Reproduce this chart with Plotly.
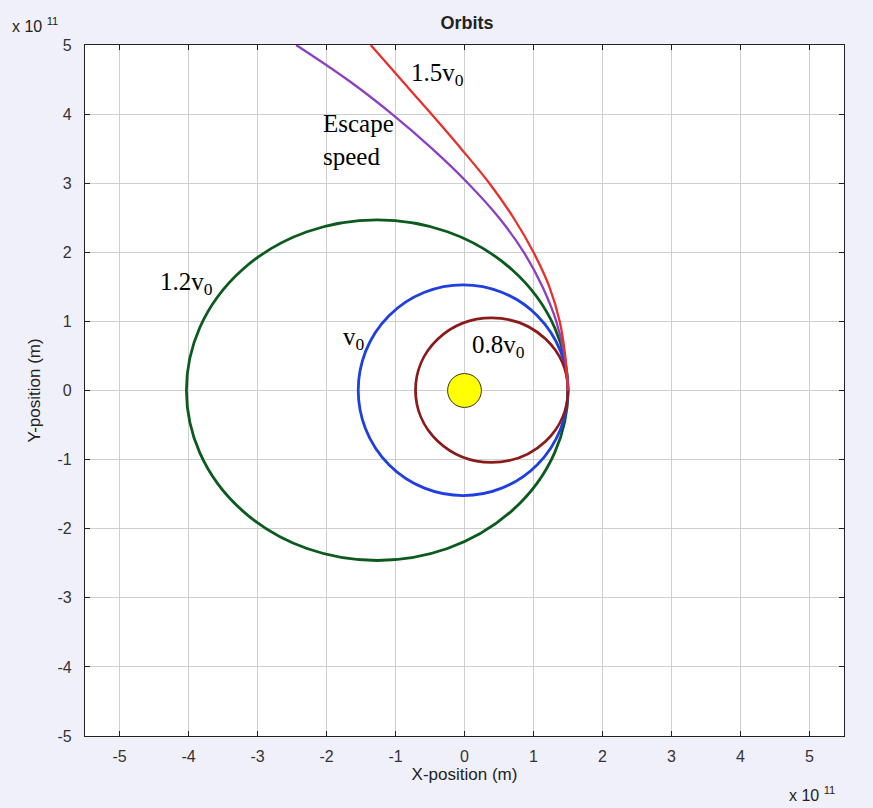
import plotly.graph_objects as go

# Units: 1e11 m
# Open trajectories (top -> perihelion)
fast_x = [-1.36, -0.92, -0.48, -0.05, 0.36, 0.71, 1.00, 1.23, 1.38, 1.46, 1.50]
fast_y = [5.00, 4.50, 4.00, 3.50, 3.00, 2.50, 2.00, 1.50, 1.00, 0.50, 0.00]
escape_x = [-2.44, -1.70, -1.05, -0.47, 0.05, 0.50, 0.86, 1.13, 1.33, 1.45, 1.50]
escape_y = [5.00, 4.50, 4.00, 3.50, 3.00, 2.50, 2.00, 1.50, 1.00, 0.50, 0.00]

# Closed orbits: bounding boxes
orbit_names = ["1.2v0", "v0", "0.8v0"]
orbit_x0 = [-4.03, -1.54, -0.71]
orbit_x1 = [1.50, 1.50, 1.50]
orbit_y0 = [-2.46, -1.52, -1.04]
orbit_y1 = [2.47, 1.53, 1.05]
orbit_colors = ["#0b5a1e", "#1f3fe0", "#8b1a1a"]

sun_box = [-0.245, 0.245, -0.245, 0.245]

x_ticks = [-5, -4, -3, -2, -1, 0, 1, 2, 3, 4, 5]
x_tick_text = ["-5", "-4", "-3", "-2", "-1", "0", "1", "2", "3", "4", "5"]
y_ticks = [-5, -4, -3, -2, -1, 0, 1, 2, 3, 4, 5]
y_tick_text = ["-5", "-4", "-3", "-2", "-1", "0", "1", "2", "3", "4", "5"]

labels_text = ["1.5v<sub>0</sub>", "Escape<br>speed", "1.2v<sub>0</sub>", "v<sub>0</sub>", "0.8v<sub>0</sub>"]
labels_x = [-0.80, -2.08, -4.44, -1.79, 0.08]
labels_y = [4.57, 3.62, 1.55, 0.75, 0.64]

fig = go.Figure()

fig.add_trace(go.Scatter(x=escape_x, y=escape_y, mode="lines",
                         line=dict(color="#8a3fc4", width=2.3, shape="spline", smoothing=1.0),
                         hoverinfo="skip"))
fig.add_trace(go.Scatter(x=fast_x, y=fast_y, mode="lines",
                         line=dict(color="#e8302a", width=2.3, shape="spline", smoothing=1.0),
                         hoverinfo="skip"))

shapes = []
for x0, x1, y0, y1, c in zip(orbit_x0, orbit_x1, orbit_y0, orbit_y1, orbit_colors):
    shapes.append(dict(type="circle", xref="x", yref="y", x0=x0, x1=x1, y0=y0, y1=y1,
                       line=dict(color=c, width=2.8), layer="between"))
shapes.append(dict(type="circle", xref="x", yref="y",
                   x0=sun_box[0], x1=sun_box[1], y0=sun_box[2], y1=sun_box[3],
                   fillcolor="#ffff00", line=dict(color="#333333", width=1), layer="above"))

annotations = []
for t, x, y in zip(labels_text, labels_x, labels_y):
    annotations.append(dict(text=t, x=x, y=y, xref="x", yref="y", showarrow=False,
                            xanchor="left", yanchor="middle", align="left",
                            font=dict(family="Liberation Serif", size=25, color="black")))

annotations.append(dict(text="x 10 <sup>11</sup>", xref="paper", yref="paper",
                        x=0, y=1, xanchor="left", yanchor="middle", showarrow=False,
                        font=dict(family="Liberation Sans", size=16, color="#222222"),
                        xshift=-75, yshift=20))
annotations.append(dict(text="x 10 <sup>11</sup>", xref="paper", yref="paper",
                        x=1, y=0, xanchor="left", yanchor="middle", showarrow=False,
                        font=dict(family="Liberation Sans", size=16, color="#222222"),
                        xshift=-57, yshift=-58))

fig.update_layout(
    width=873, height=808,
    margin=dict(l=85, r=29, t=45, b=72),
    paper_bgcolor="#f0f0fa",
    plot_bgcolor="white",
    showlegend=False,
    shapes=shapes,
    annotations=annotations,
    title=dict(text="<b>Orbits</b>", x=0.535, xanchor="center", y=0.972, yanchor="middle",
               font=dict(family="Liberation Sans", size=18, color="#222222")),
    font=dict(family="Liberation Sans", size=16, color="#333333"),
)

fig.update_xaxes(range=[-5.5, 5.5], tickvals=x_ticks, ticktext=x_tick_text, ticks="inside", ticklen=5,
                 tickcolor="#222222", showline=True, mirror="allticks", linecolor="#222222",
                 linewidth=1.3, showgrid=True, gridcolor="#cfcfcf", gridwidth=1,
                 zeroline=False, ticklabelstandoff=6,
                 tickfont=dict(family="Liberation Sans", size=16, color="#333333"),
                 title=dict(text="X-position (m)", standoff=0,
                            font=dict(family="Liberation Sans", size=17, color="#222222")))
fig.update_yaxes(range=[-5, 5], tickvals=y_ticks, ticktext=y_tick_text, ticks="inside", ticklen=5,
                 tickcolor="#222222", showline=True, mirror="allticks", linecolor="#222222",
                 linewidth=1.3, showgrid=True, gridcolor="#cfcfcf", gridwidth=1,
                 zeroline=False, ticklabelstandoff=9,
                 tickfont=dict(family="Liberation Sans", size=16, color="#333333"),
                 title=dict(text="Y-position (m)", standoff=12,
                            font=dict(family="Liberation Sans", size=17, color="#222222")))

fig.write_html("out.html", config={"displayModeBar": False},
               post_script="document.body.style.margin='0';document.body.style.background='#f0f0fa';")
